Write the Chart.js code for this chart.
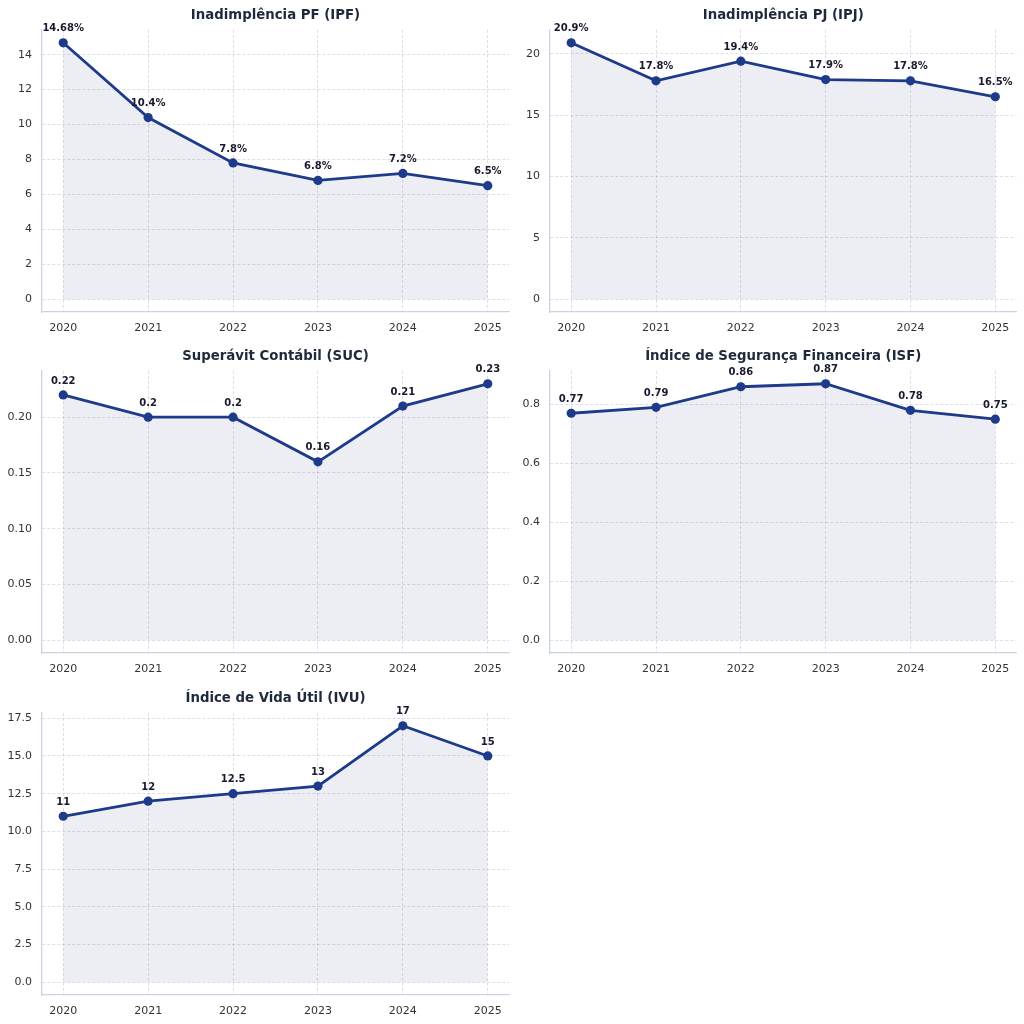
<!DOCTYPE html>
<html>
<head>
<meta charset="utf-8">
<script src="https://cdn.jsdelivr.net/npm/chart.js@4.4.1/dist/chart.umd.min.js"></script>
<style>
  html, body { margin: 0; padding: 0; background: #ffffff; }
  #page { position: relative; width: 1024px; height: 1024px; overflow: hidden; }
  .box { position: absolute; }
</style>
</head>
<body>
<div id="page">
  <div class="box" style="left:0px;top:0px;width:520px;height:341px"><canvas id="c1"></canvas></div>
  <div class="box" style="left:520px;top:0px;width:504px;height:341px"><canvas id="c2"></canvas></div>
  <div class="box" style="left:0px;top:341px;width:520px;height:341px"><canvas id="c3"></canvas></div>
  <div class="box" style="left:520px;top:341px;width:504px;height:341px"><canvas id="c4"></canvas></div>
  <div class="box" style="left:0px;top:683px;width:520px;height:341px"><canvas id="c5"></canvas></div>
</div>
<script>
// Dados
const years = [2020, 2021, 2022, 2023, 2024, 2025];

const ipfValues = [14.68, 10.4, 7.8, 6.8, 7.2, 6.5];
const ipjValues = [20.9, 17.8, 19.4, 17.9, 17.8, 16.5];
const sucValues = [0.22, 0.2, 0.2, 0.16, 0.21, 0.23];
const isfValues = [0.77, 0.79, 0.86, 0.87, 0.78, 0.75];
const ivuValues = [11, 12, 12.5, 13, 17, 15];

const ipfTicks = [0, 2, 4, 6, 8, 10, 12, 14];
const ipjTicks = [0, 5, 10, 15, 20];
const sucTicks = [0, 0.05, 0.10, 0.15, 0.20];
const isfTicks = [0, 0.2, 0.4, 0.6, 0.8];
const ivuTicks = [0, 2.5, 5, 7.5, 10, 12.5, 15, 17.5];

const NAVY = '#1e3a8a';
const FONT = "'DejaVu Sans', sans-serif";
const GRID = 'rgba(160, 166, 188, 0.45)';

// rótulos acima de cada ponto
const pointLabels = {
    id: 'pointLabels',
    afterDatasetsDraw(chart, args, opts) {
        const ctx = chart.ctx;
        const meta = chart.getDatasetMeta(0);
        const data = chart.data.datasets[0].data;
        ctx.save();
        ctx.font = 'bold 10px ' + FONT;
        ctx.fillStyle = '#1a1a2e';
        ctx.textAlign = 'center';
        ctx.textBaseline = 'middle';
        meta.data.forEach((pt, i) => {
            ctx.fillText(String(data[i].y) + (opts.suffix || ''), pt.x, pt.y - 14);
        });
        ctx.restore();
    }
};

function makeChart(id, title, values, yTicks, decimals, suffix, axisWidth, padRight) {
    const lo = 0;
    const hi = Math.max(...values);
    const margin = (hi - lo) * 0.05;

    return new Chart(document.getElementById(id), {
        type: 'line',
        data: {
            datasets: [{
                data: values.map((v, i) => ({ x: years[i], y: v })),
                borderColor: NAVY,
                borderWidth: 2.8,
                backgroundColor: 'rgba(60, 70, 125, 0.09)',
                fill: 'origin',
                tension: 0,
                pointRadius: 4.6,
                pointHoverRadius: 4.6,
                pointBackgroundColor: NAVY,
                pointBorderColor: NAVY,
                pointBorderWidth: 0
            }]
        },
        options: {
            responsive: true,
            maintainAspectRatio: false,
            animation: false,
            events: [],
            layout: {
                autoPadding: false,
                padding: { left: 0, right: padRight, top: 0, bottom: 0 }
            },
            plugins: {
                legend: { display: false },
                tooltip: { enabled: false },
                title: {
                    display: true,
                    text: title,
                    fullSize: false,
                    color: '#1e293b',
                    font: { family: FONT, size: 13.3, weight: 'bold', lineHeight: 1.2 },
                    padding: { top: 7.5, bottom: 6.5 }
                },
                pointLabels: { suffix: suffix }
            },
            scales: {
                x: {
                    type: 'linear',
                    min: years[0] - 0.25,
                    max: years[years.length - 1] + 0.25,
                    afterBuildTicks: scale => { scale.ticks = years.map(v => ({ value: v })); },
                    afterFit: scale => { scale.height = 29; },
                    ticks: {
                        autoSkip: false,
                        padding: 9.5,
                        color: '#333333',
                        font: { family: FONT, size: 11 },
                        maxRotation: 0,
                        callback: v => String(v)
                    },
                    grid: { color: GRID, lineWidth: 0.8, drawTicks: false },
                    border: { display: true, color: '#c9d3e3', width: 1.3, dash: [3, 2] }
                },
                y: {
                    min: lo - margin,
                    max: hi + margin,
                    afterBuildTicks: scale => { scale.ticks = yTicks.map(v => ({ value: v })); },
                    afterFit: scale => { scale.width = axisWidth; },
                    ticks: {
                        autoSkip: false,
                        padding: 10,
                        color: '#333333',
                        font: { family: FONT, size: 11 },
                        callback: v => Number(v).toFixed(decimals)
                    },
                    grid: { color: GRID, lineWidth: 0.8, drawTicks: false },
                    border: { display: true, color: '#c9d3e3', width: 1.3, dash: [3, 2] }
                }
            }
        },
        plugins: [pointLabels]
    });
}

makeChart('c1', 'Inadimplência PF (IPF)', ipfValues, ipfTicks, 0, '%', 42, 11);
makeChart('c2', 'Inadimplência PJ (IPJ)', ipjValues, ipjTicks, 0, '%', 30, 7.5);
makeChart('c3', 'Superávit Contábil (SUC)', sucValues, sucTicks, 2, '', 42, 11);
makeChart('c4', 'Índice de Segurança Financeira (ISF)', isfValues, isfTicks, 1, '', 30, 7.5);
makeChart('c5', 'Índice de Vida Útil (IVU)', ivuValues, ivuTicks, 1, '', 42, 11);
</script>
</body>
</html>
